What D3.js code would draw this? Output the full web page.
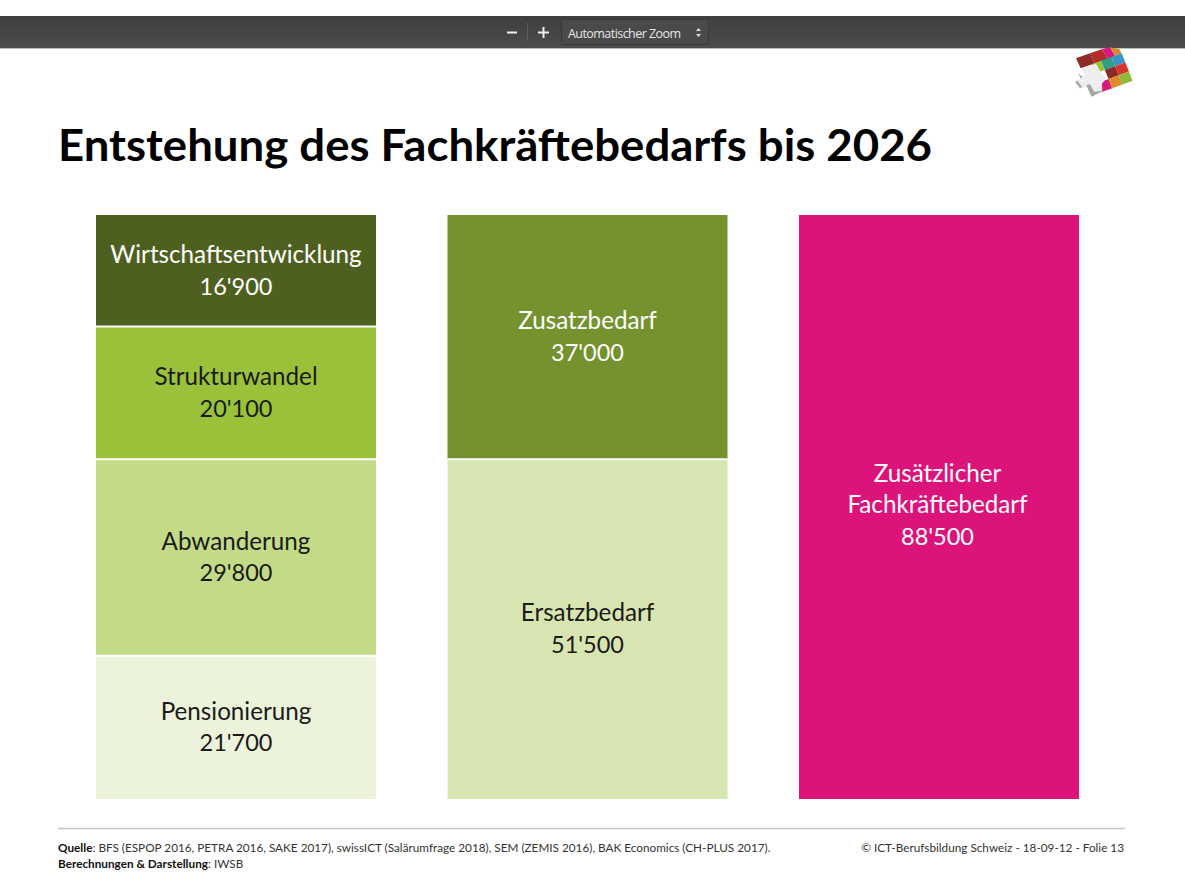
<!DOCTYPE html>
<html lang="de">
<head>
<meta charset="utf-8">
<title>Entstehung des Fachkräftebedarfs bis 2026</title>
<script src="https://cdnjs.cloudflare.com/ajax/libs/d3/7.8.5/d3.min.js"></script>
<style>
    html, body { margin: 0; padding: 0; background: #fff; }
    svg { display: block; font-family: Lato, "Open Sans", sans-serif; }
</style>
</head>
<body>
<div id="chart"></div>
<script>
// Daten
const columns = ["Komponenten", "Bedarf", "Total"];
const segmentColumn = ["Komponenten", "Komponenten", "Komponenten", "Komponenten", "Bedarf", "Bedarf", "Total"];
const segmentNames = [
    ["Pensionierung"], ["Abwanderung"], ["Strukturwandel"], ["Wirtschaftsentwicklung"],
    ["Ersatzbedarf"], ["Zusatzbedarf"],
    ["Zusätzlicher", "Fachkräftebedarf"]
];
const segmentValues = [21700, 29800, 20100, 16900, 51500, 37000, 88500];
const segmentFills = ["#ebf3da", "#c3da87", "#99c23a", "#4e601f", "#d7e6b0", "#74922e", "#dc137b"];
const segmentText = ["#1a1a1a", "#1a1a1a", "#1a1a1a", "#fff", "#1a1a1a", "#fff", "#fff"];
const titleText = "Entstehung des Fachkräftebedarfs bis 2026";

const width = 1185, height = 889;
const svg = d3.select("#chart").append("svg")
    .attr("width", width)
    .attr("height", height)
    .attr("viewBox", `0 0 ${width} ${height}`);

// --- PDF Viewer Leiste ---
const toolbarGrad = svg.append("defs").append("linearGradient")
    .attr("id", "toolbarGrad").attr("x1", 0).attr("x2", 0).attr("y1", 0).attr("y2", 1);
toolbarGrad.append("stop").attr("offset", "0%").attr("stop-color", "#3e3e3e");
toolbarGrad.append("stop").attr("offset", "100%").attr("stop-color", "#4c4c4c");

svg.append("rect").attr("x", 0).attr("y", 16).attr("width", width).attr("height", 32).attr("fill", "url(#toolbarGrad)");
svg.append("rect").attr("x", 0).attr("y", 48).attr("width", width).attr("height", 1).attr("fill", "#bbb");
svg.append("rect").attr("x", 507).attr("y", 31.5).attr("width", 10).attr("height", 2).attr("fill", "#eee");
svg.append("rect").attr("x", 527).attr("y", 23).attr("width", 1).attr("height", 18).attr("fill", "#5e5e5e");
svg.append("rect").attr("x", 538).attr("y", 31.5).attr("width", 11).attr("height", 2).attr("fill", "#eee");
svg.append("rect").attr("x", 542.5).attr("y", 27).attr("width", 2).attr("height", 11).attr("fill", "#eee");
svg.append("rect").attr("x", 561.5).attr("y", 19.5).attr("width", 147).attr("height", 25)
    .attr("rx", 2).attr("fill", "#4a4a4a").attr("stroke", "#383838");
svg.append("text").attr("x", 568).attr("y", 37.5).attr("font-size", 12.5).attr("fill", "#e6e6e6")
    .style("font-family", "'Open Sans', sans-serif").attr("textLength", 113).text("Automatischer Zoom");
svg.append("path").attr("d", "M696 31l2.5-3 2.5 3zM696 34l2.5 3 2.5-3z").attr("fill", "#ddd");

// --- Logo oben rechts (Würfel mit Kreuz), Einheiten = 1/3 Pixel ---
const logo = svg.append("g").attr("transform", "translate(1060,40) scale(0.3333)");
const logoTop = [
    ["#8e2a25", "48,55 90,40 105,70 62,85"],
    ["#b22c2c", "90,40 125,28 145,58 105,70"],
    ["#d8197c", "125,28 150,22 165,47 145,58"],
    ["#d9892f", "150,22 178,28 185,40 165,47"]
];
const logoFace = [
    ["#f0f0f0", "#9bc43a", "#2f9f83", "#3a94c4"],
    ["#f0f0f0", "#f0f0f0", "#8e2a25", "#d8342f"],
    ["#f0f0f0", "#d8197c", "#e08a2c", "#8fb83a"]
];
logo.selectAll("polygon.top").data(logoTop).join("polygon")
    .attr("class", "top")
    .attr("fill", d => d[0])
    .attr("points", d => d[1]);

// Raster auf der schiefen Vorderseite
const A = [62, 85], B = [185, 40], D = [95, 167];
const facePoint = (c, r) => [
    A[0] + (B[0] - A[0]) * c / 4 + (D[0] - A[0]) * r / 3,
    A[1] + (B[1] - A[1]) * c / 4 + (D[1] - A[1]) * r / 3
];
logoFace.forEach((row, r) => row.forEach((fill, c) => {
    if (fill === "#f0f0f0") return;
    logo.append("polygon").attr("fill", fill)
        .attr("points", [facePoint(c, r), facePoint(c + 1, r), facePoint(c + 1, r + 1), facePoint(c, r + 1)].join(" "));
}));
// Kreuz
logo.append("polygon").attr("fill", "#a8a8a8")
    .attr("points", "54,100 63,117 45,125 60,145 78,135 95,170 125,155 112,132 92,130");
logo.append("polygon").attr("fill", "#eeeeee")
    .attr("points", "64,87 108,71 124,100 140,116 126,130 127,152 103,155 90,132 66,140 52,122 76,106");

// --- Titel ---
svg.append("text")
    .attr("x", 58).attr("y", 161)
    .attr("font-size", 44.5)
    .attr("font-weight", 700)
    .attr("fill", "#000")
    .attr("textLength", 874)
    .attr("lengthAdjust", "spacingAndGlyphs")
    .text(titleText);

// --- Skalen ---
const x = d3.scaleBand().domain(columns).range([96, 1079]).paddingInner(0.2034).paddingOuter(0);
const y = d3.scaleLinear().domain([0, 88500]).range([799, 215]);

// Gestapelte Segmente pro Spalte
const running = {};
const segments = segmentValues.map((v, i) => {
    const col = segmentColumn[i];
    const y0 = running[col] || 0;
    running[col] = y0 + v;
    return { col, y0, y1: y0 + v, v, names: segmentNames[i], fill: segmentFills[i], text: segmentText[i] };
});

svg.append("g").selectAll("rect").data(segments).join("rect")
    .attr("x", d => x(d.col))
    .attr("y", d => y(d.y1))
    .attr("width", x.bandwidth())
    .attr("height", d => y(d.y0) - y(d.y1))
    .attr("fill", d => d.fill);

// weisse Trennlinien zwischen den Segmenten
svg.append("g").selectAll("line").data(segments.filter(d => d.y0 > 0)).join("line")
    .attr("x1", d => x(d.col))
    .attr("x2", d => x(d.col) + x.bandwidth())
    .attr("y1", d => y(d.y0))
    .attr("y2", d => y(d.y0))
    .attr("stroke", "#fff")
    .attr("stroke-width", 2);

// Beschriftung
const fmt = v => d3.format(",")(v).replace(",", "'");
const lineH = 31.5;
const labels = svg.append("g").selectAll("text").data(segments).join("text")
    .attr("text-anchor", "middle")
    .attr("fill", d => d.text);

labels.each(function(d) {
    const lines = [...d.names, fmt(d.v)];
    const cy = (y(d.y0) + y(d.y1)) / 2;
    const offset = lines.length > 2 ? 6 : 8; // dreizeilige Box sitzt etwas höher
    const shift = lines.length > 2 ? -1.5 : 0;
    const top = cy - (lines.length - 1) * lineH / 2 + offset;
    d3.select(this).selectAll("tspan").data(lines).join("tspan")
        .attr("x", x(d.col) + x.bandwidth() / 2 + shift)
        .attr("y", (l, i) => top + i * lineH)
        .attr("font-size", (l, i) => i === lines.length - 1 ? 23.5 : 24.2)
        .text(l => l);
});

// --- Fusszeile ---
svg.append("line").attr("x1", 58).attr("x2", 1125).attr("y1", 828.5).attr("y2", 828.5)
    .attr("stroke", "#c4c4c4").attr("stroke-width", 1.5);

const footerSize = 11.75;
const source = svg.append("text").attr("x", 58).attr("y", 852).attr("font-size", footerSize).attr("fill", "#333");
source.append("tspan").attr("font-weight", 700).attr("fill", "#111").text("Quelle");
source.append("tspan").text(": BFS (ESPOP 2016, PETRA 2016, SAKE 2017), swissICT (Salärumfrage 2018), SEM (ZEMIS 2016), BAK Economics (CH-PLUS 2017).");

const credit = svg.append("text").attr("x", 58).attr("y", 868).attr("font-size", footerSize).attr("fill", "#333");
credit.append("tspan").attr("font-weight", 700).attr("fill", "#111").text("Berechnungen & Darstellung");
credit.append("tspan").text(": IWSB");

svg.append("text").attr("x", 1124).attr("y", 852).attr("text-anchor", "end")
    .attr("font-size", footerSize).attr("fill", "#333")
    .text("© ICT-Berufsbildung Schweiz - 18-09-12 - Folie 13");
</script>
</body>
</html>
